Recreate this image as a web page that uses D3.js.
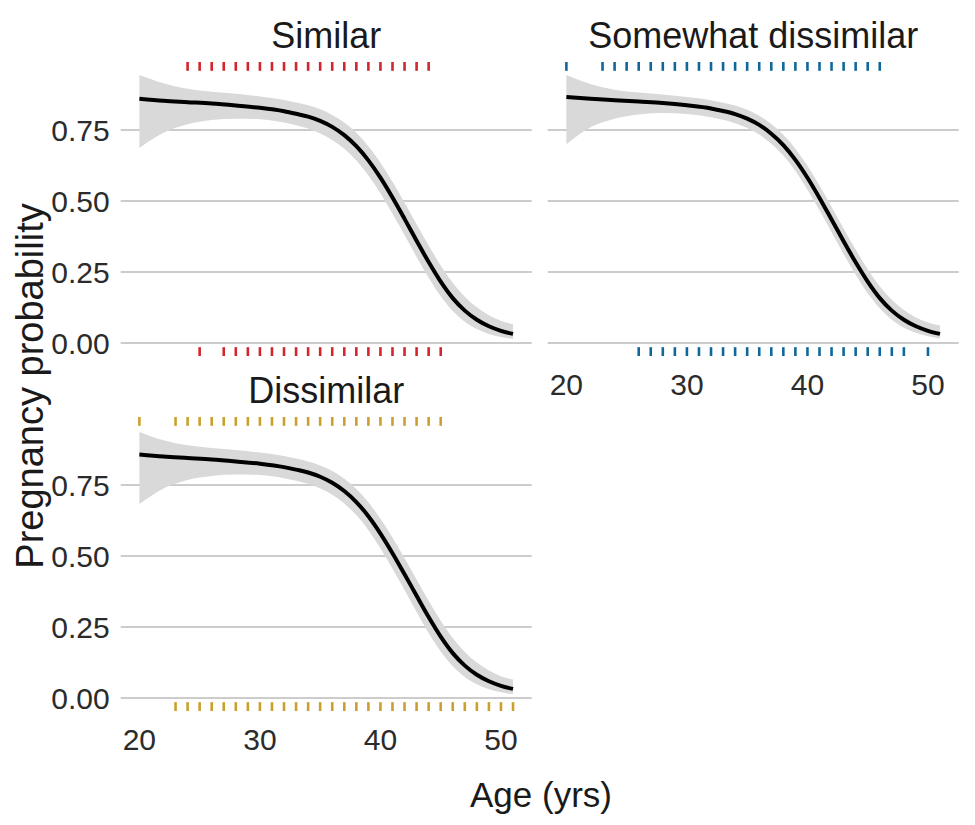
<!DOCTYPE html>
<html>
<head>
<meta charset="utf-8">
<script src="https://cdn.jsdelivr.net/npm/d3@7"></script>
<style>
  body { margin: 0; background: #fff; }
  text { font-family: "Liberation Sans", Arial, sans-serif; }
</style>
</head>
<body>
<div id="canvas"></div>
<script>
const ages = [20, 22, 24, 26, 28, 30, 32, 33, 34, 35, 36, 37, 38, 39, 40, 41, 42, 43, 44, 45, 46, 47, 48, 49, 50, 51];

const similarFit   = [0.860, 0.853, 0.848, 0.843, 0.836, 0.828, 0.816, 0.807, 0.797, 0.782, 0.761, 0.732, 0.693, 0.643, 0.582, 0.512, 0.437, 0.360, 0.285, 0.216, 0.158, 0.114, 0.082, 0.059, 0.043, 0.032];
const similarUpper = [0.944, 0.915, 0.895, 0.885, 0.878, 0.868, 0.856, 0.847, 0.837, 0.823, 0.803, 0.776, 0.740, 0.693, 0.635, 0.568, 0.494, 0.418, 0.343, 0.273, 0.212, 0.163, 0.126, 0.098, 0.078, 0.066];
const similarLower = [0.687, 0.740, 0.770, 0.785, 0.790, 0.788, 0.776, 0.767, 0.755, 0.738, 0.715, 0.684, 0.643, 0.590, 0.527, 0.455, 0.380, 0.303, 0.230, 0.165, 0.113, 0.075, 0.049, 0.032, 0.021, 0.014];

const somewhatFit   = [0.866, 0.860, 0.855, 0.850, 0.845, 0.837, 0.826, 0.817, 0.806, 0.790, 0.768, 0.737, 0.697, 0.645, 0.582, 0.511, 0.435, 0.358, 0.284, 0.216, 0.158, 0.114, 0.082, 0.059, 0.043, 0.032];
const somewhatUpper = [0.944, 0.912, 0.892, 0.882, 0.875, 0.866, 0.855, 0.846, 0.836, 0.821, 0.800, 0.771, 0.733, 0.684, 0.624, 0.555, 0.480, 0.403, 0.329, 0.260, 0.200, 0.152, 0.116, 0.090, 0.072, 0.062];
const somewhatLower = [0.700, 0.760, 0.790, 0.805, 0.810, 0.806, 0.795, 0.786, 0.774, 0.757, 0.734, 0.702, 0.660, 0.606, 0.540, 0.467, 0.390, 0.313, 0.240, 0.175, 0.122, 0.082, 0.054, 0.036, 0.024, 0.016];

const dissimilarFit   = [0.857, 0.850, 0.845, 0.840, 0.833, 0.825, 0.813, 0.804, 0.794, 0.779, 0.758, 0.729, 0.690, 0.640, 0.579, 0.510, 0.436, 0.360, 0.285, 0.216, 0.158, 0.114, 0.082, 0.059, 0.043, 0.032];
const dissimilarUpper = [0.937, 0.908, 0.890, 0.880, 0.873, 0.864, 0.852, 0.843, 0.833, 0.819, 0.799, 0.772, 0.736, 0.689, 0.631, 0.565, 0.492, 0.417, 0.342, 0.272, 0.211, 0.162, 0.125, 0.097, 0.077, 0.065];
const dissimilarLower = [0.683, 0.738, 0.768, 0.782, 0.787, 0.785, 0.774, 0.765, 0.754, 0.738, 0.716, 0.685, 0.644, 0.591, 0.527, 0.455, 0.380, 0.303, 0.229, 0.164, 0.112, 0.074, 0.048, 0.031, 0.020, 0.013];

// ages of the women in each group (top rug = pregnant, bottom rug = not)
const similarYes    = [24, 25, 26, 27, 28, 29, 30, 31, 32, 33, 34, 35, 36, 37, 38, 39, 40, 41, 42, 43, 44];
const similarNo     = [25, 27, 28, 29, 30, 31, 32, 33, 34, 35, 36, 37, 38, 39, 40, 41, 42, 43, 44, 45];
const somewhatYes   = [20, 23, 24, 25, 26, 27, 28, 29, 30, 31, 32, 33, 34, 35, 36, 37, 38, 39, 40, 41, 42, 43, 44, 45, 46];
const somewhatNo    = [26, 27, 28, 29, 30, 31, 32, 33, 34, 35, 36, 37, 38, 39, 40, 41, 42, 43, 44, 45, 46, 47, 48, 50];
const dissimilarYes = [20, 23, 24, 25, 26, 27, 28, 29, 30, 31, 32, 33, 34, 35, 36, 37, 38, 39, 40, 41, 42, 43, 44, 45];
const dissimilarNo  = [23, 24, 25, 26, 27, 28, 29, 30, 31, 32, 33, 34, 35, 36, 37, 38, 39, 40, 41, 42, 43, 44, 45, 46, 47, 48, 49, 50, 51];

const groups = ["Similar", "Somewhat dissimilar", "Dissimilar"];
const groupColors = ["#d3262c", "#10689a", "#c9a02a"];
const xTicks = [20, 30, 40, 50];
const yTicks = [0, 0.25, 0.5, 0.75];

window.onload = function() {
    const width = 975, height = 825;
    const svg = d3.select("#canvas").append("svg")
        .attr("width", width).attr("height", height);

    // panel geometry (facet_wrap style, 2 columns)
    const panelW = 411, panelH = 294;
    const panelLeft = [120.7, 547.7, 120.7];
    const panelTop = [62, 62, 417];

    const panels = [
        {fit: similarFit, up: similarUpper, lo: similarLower, yes: similarYes, no: similarNo},
        {fit: somewhatFit, up: somewhatUpper, lo: somewhatLower, yes: somewhatYes, no: somewhatNo},
        {fit: dissimilarFit, up: dissimilarUpper, lo: dissimilarLower, yes: dissimilarYes, no: dissimilarNo}
    ];

    panels.forEach(function(p, k) {
        let g = svg.append("g")
            .attr("transform", "translate(" + panelLeft[k] + "," + panelTop[k] + ")");

        // x expanded 5% each side
        let xr = 51 - 20;
        let x = d3.scaleLinear().domain([20 - 0.05 * xr, 51 + 0.05 * xr]).range([0, panelW]);
        let y = d3.scaleLinear().domain([0, 1]).range([panelH - 13, panelH - 13 - 284]);

        g.selectAll("line.grid").data(yTicks).enter().append("line")
            .attr("class", "grid")
            .attr("x1", 0).attr("x2", panelW)
            .attr("y1", d => y(d)).attr("y2", d => y(d))
            .attr("stroke", "#cccccc").attr("stroke-width", 2);

        let rows = ages.map((a, i) => ({age: a, fit: p.fit[i], up: p.up[i], lo: p.lo[i]}));

        g.append("path").datum(rows)
            .attr("fill", "#d9d9d9")
            .attr("d", d3.area().curve(d3.curveMonotoneX)
                .x(d => x(d.age)).y0(d => y(d.lo)).y1(d => y(d.up)));

        g.append("path").datum(rows)
            .attr("fill", "none").attr("stroke", "#000").attr("stroke-width", 4)
            .attr("d", d3.line().curve(d3.curveMonotoneX)
                .x(d => x(d.age)).y(d => y(d.fit)));

        // rugs
        let rugLen = 0.03 * panelH;
        g.selectAll("line.rugT").data(p.yes).enter().append("line")
            .attr("x1", d => x(d)).attr("x2", d => x(d))
            .attr("y1", 0).attr("y2", rugLen)
            .attr("stroke", groupColors[k]).attr("stroke-width", 2.6);
        g.selectAll("line.rugB").data(p.no).enter().append("line")
            .attr("x1", d => x(d)).attr("x2", d => x(d))
            .attr("y1", panelH - rugLen).attr("y2", panelH)
            .attr("stroke", groupColors[k]).attr("stroke-width", 2.6);

        // strip title
        g.append("text")
            .attr("x", panelW / 2).attr("y", -14)
            .attr("text-anchor", "middle")
            .attr("font-size", 36).attr("fill", "#1a1a1a")
            .text(groups[k]);

        // y axis on left column
        if (k != 1) {
            g.selectAll("text.ytick").data(yTicks).enter().append("text")
                .attr("x", -11).attr("y", d => y(d))
                .attr("dy", "0.36em")
                .attr("text-anchor", "end")
                .attr("font-size", 30).attr("fill", "#2b2b2b")
                .text(d => d3.format(".2f")(d));
        }
        // x axis under bottom panel of each column
        if (k != 0) {
            g.selectAll("text.xtick").data(xTicks).enter().append("text")
                .attr("x", d => x(d)).attr("y", panelH + 39)
                .attr("text-anchor", "middle")
                .attr("font-size", 30).attr("fill", "#2b2b2b")
                .text(d => d);
        }
    });

    svg.append("text")
        .attr("x", 541).attr("y", 807)
        .attr("text-anchor", "middle")
        .attr("font-size", 35).attr("fill", "#1a1a1a")
        .text("Age (yrs)");

    svg.append("text")
        .attr("transform", "translate(43,386) rotate(-90)")
        .attr("text-anchor", "middle")
        .attr("font-size", 38).attr("fill", "#1a1a1a")
        .text("Pregnancy probability");
}
</script>
</body>
</html>
